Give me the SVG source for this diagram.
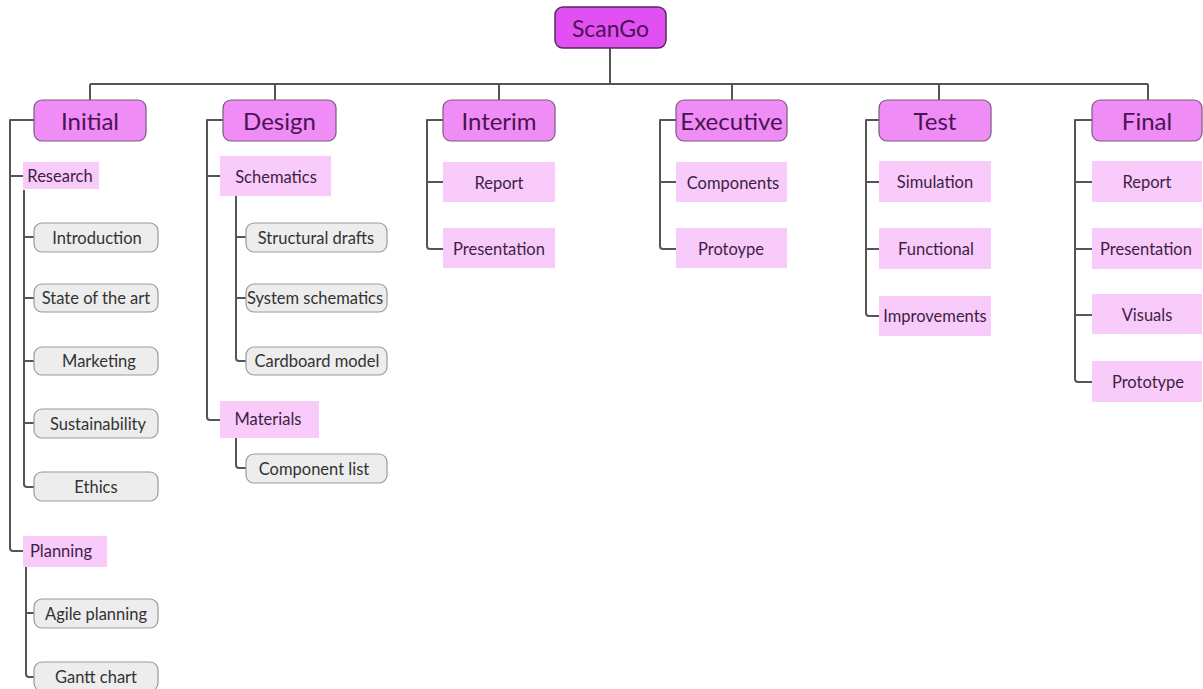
<svg xmlns="http://www.w3.org/2000/svg" width="1203" height="689" viewBox="0 0 1203 689">
<style>
.root{fill:#e24ff2;stroke:#5a2a5e;stroke-width:1.5}
.phase{fill:#f08cf5;stroke:#7a5a7e;stroke-width:1.2}
.sub{fill:#f9cbfb}
.leaf{fill:#ededed;stroke:#9a9a9a;stroke-width:1.2}
.conn{fill:none;stroke:#555;stroke-width:2;stroke-linejoin:round}
text{font-family:Lato,"Open Sans",sans-serif;dominant-baseline:central}
.tr{font-size:23px;fill:#4a1452;text-anchor:middle}
.tp{font-size:24px;fill:#4a1452;text-anchor:middle}
.ts{font-size:16.5px;fill:#3d1f44;text-anchor:middle}
.tl{font-size:16.5px;fill:#333;text-anchor:middle}
</style>
<rect width="1203" height="689" fill="#fff"/>
<g id="connectors" class="conn">
<path d="M610,48 V84 M90,84 H1148 M90,84 V100 M275,84 V100 M499,84 V100 M732,84 V100 M939,84 V100 M1148,84 V100"/>
<path d="M34,120 H10 V548 Q10,551 13,551 H23 M10,176 H23"/>
<path d="M24,190 V484 Q24,487 27,487 H34 M24,237 H34 M24,298 H34 M24,361 H34 M24,423 H34"/>
<path d="M26,567 V674 Q26,677 29,677 H34 M26,613 H34"/>
<path d="M223,120 H207 V417 Q207,420 210,420 H220 M207,176 H220"/>
<path d="M236,196 V358 Q236,361 239,361 H246 M236,237 H246 M236,298 H246"/>
<path d="M236,438 V465 Q236,468 239,468 H246"/>
<path d="M443,120 H427 V246 Q427,249 430,249 H443 M427,182 H443"/>
<path d="M676,120 H660 V246 Q660,249 663,249 H676 M660,182 H676"/>
<path d="M879,120 H866 V313 Q866,316 869,316 H879 M866,182 H879 M866,249 H879"/>
<path d="M1092,120 H1075 V379 Q1075,382 1078,382 H1092 M1075,182 H1092 M1075,249 H1092 M1075,315 H1092"/>
</g>
<g id="scango"><rect class="root" x="555" y="7" width="111" height="41" rx="8"/><text class="tr" x="610.5" y="28">ScanGo</text></g>
<g id="initial"><rect class="phase" x="34" y="100" width="112" height="41" rx="8"/><text class="tp" x="90" y="120">Initial</text></g>
<g id="design"><rect class="phase" x="223" y="100" width="113" height="41" rx="8"/><text class="tp" x="279.5" y="120">Design</text></g>
<g id="interim"><rect class="phase" x="443" y="100" width="112" height="41" rx="8"/><text class="tp" x="499" y="120">Interim</text></g>
<g id="executive"><rect class="phase" x="676" y="100" width="111" height="41" rx="8"/><text class="tp" x="731.5" y="120">Executive</text></g>
<g id="test"><rect class="phase" x="879" y="100" width="112" height="41" rx="8"/><text class="tp" x="935" y="120">Test</text></g>
<g id="final"><rect class="phase" x="1092" y="100" width="110" height="41" rx="8"/><text class="tp" x="1147" y="120">Final</text></g>

<g id="research"><rect class="sub" x="23" y="162" width="76" height="27"/><text class="ts" x="60" y="175.5">Research</text></g>
<g id="introduction"><rect class="leaf" x="34" y="223" width="124" height="29" rx="8"/><text class="tl" x="97" y="237.5">Introduction</text></g>
<g id="stateoftheart"><rect class="leaf" x="34" y="284" width="124" height="28" rx="8"/><text class="tl" x="96" y="298">State of the art</text></g>
<g id="marketing"><rect class="leaf" x="34" y="347" width="124" height="28" rx="8"/><text class="tl" x="99" y="361">Marketing</text></g>
<g id="sustainability"><rect class="leaf" x="34" y="409" width="124" height="29" rx="8"/><text class="tl" x="98" y="423.5">Sustainability</text></g>
<g id="ethics"><rect class="leaf" x="34" y="472" width="124" height="29" rx="8"/><text class="tl" x="96" y="486.5">Ethics</text></g>
<g id="planning"><rect class="sub" x="23" y="536" width="84" height="31"/><text class="ts" x="61" y="551">Planning</text></g>
<g id="agile"><rect class="leaf" x="34" y="599" width="124" height="29" rx="8"/><text class="tl" x="96" y="613.5">Agile planning</text></g>
<g id="gantt"><rect class="leaf" x="34" y="662" width="124" height="29" rx="8"/><text class="tl" x="96" y="677">Gantt chart</text></g>

<g id="schematics"><rect class="sub" x="220" y="156" width="111" height="40"/><text class="ts" x="276" y="177">Schematics</text></g>
<g id="structural"><rect class="leaf" x="246" y="223" width="141" height="29" rx="8"/><text class="tl" x="316" y="237.5">Structural drafts</text></g>
<g id="system"><rect class="leaf" x="246" y="284" width="141" height="28" rx="8"/><text class="tl" x="315" y="298">System schematics</text></g>
<g id="cardboard"><rect class="leaf" x="246" y="347" width="141" height="28" rx="8"/><text class="tl" x="317" y="361">Cardboard model</text></g>
<g id="materials"><rect class="sub" x="220" y="401" width="99" height="37"/><text class="ts" x="268" y="419">Materials</text></g>
<g id="componentlist"><rect class="leaf" x="246" y="454" width="141" height="29" rx="8"/><text class="tl" x="314" y="468.5">Component list</text></g>

<g id="interim-report"><rect class="sub" x="443" y="162" width="112" height="40"/><text class="ts" x="499" y="183">Report</text></g>
<g id="interim-presentation"><rect class="sub" x="443" y="228" width="112" height="40"/><text class="ts" x="499" y="249">Presentation</text></g>

<g id="components"><rect class="sub" x="676" y="162" width="111" height="40"/><text class="ts" x="733" y="183">Components</text></g>
<g id="protoype"><rect class="sub" x="676" y="228" width="111" height="40"/><text class="ts" x="731" y="249">Protoype</text></g>

<g id="simulation"><rect class="sub" x="879" y="161" width="112" height="41"/><text class="ts" x="935" y="182">Simulation</text></g>
<g id="functional"><rect class="sub" x="879" y="228" width="112" height="41"/><text class="ts" x="936" y="249">Functional</text></g>
<g id="improvements"><rect class="sub" x="879" y="296" width="112" height="40"/><text class="ts" x="935" y="316">Improvements</text></g>

<g id="final-report"><rect class="sub" x="1092" y="161" width="110" height="41"/><text class="ts" x="1147" y="182">Report</text></g>
<g id="final-presentation"><rect class="sub" x="1092" y="228" width="110" height="41"/><text class="ts" x="1146" y="249">Presentation</text></g>
<g id="visuals"><rect class="sub" x="1092" y="294" width="110" height="40"/><text class="ts" x="1147" y="315">Visuals</text></g>
<g id="prototype"><rect class="sub" x="1092" y="361" width="110" height="41"/><text class="ts" x="1148" y="382">Prototype</text></g>
</svg>
